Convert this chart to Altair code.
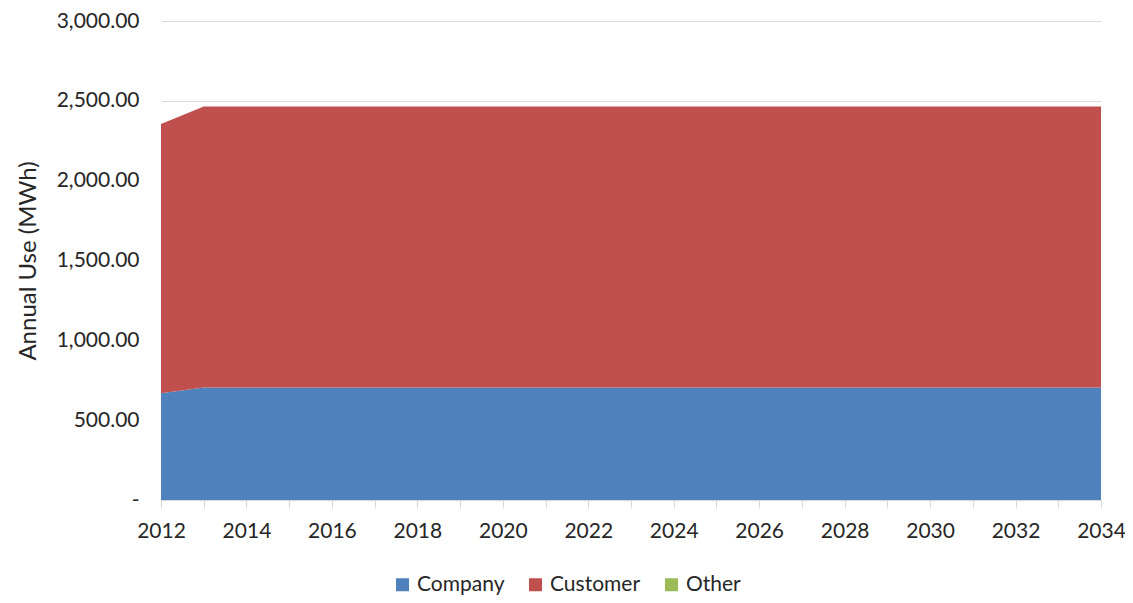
import altair as alt
import pandas as pd

years = list(range(2012, 2035))
company = [668, 705, 705, 705, 705, 705, 705, 705, 705, 705, 705, 705,
           705, 705, 705, 705, 705, 705, 705, 705, 705, 705, 705]
customer = [1687, 1760, 1760, 1760, 1760, 1760, 1760, 1760, 1760, 1760, 1760, 1760,
            1760, 1760, 1760, 1760, 1760, 1760, 1760, 1760, 1760, 1760, 1760]
other = [0, 0, 0, 0, 0, 0, 0, 0, 0, 0, 0, 0,
         0, 0, 0, 0, 0, 0, 0, 0, 0, 0, 0]
series = ["Company", "Customer", "Other"]
colors = ["#4F81BD", "#C0504D", "#9BBB59"]

rows = []
for name, vals in zip(series, [company, customer, other]):
    for y, v in zip(years, vals):
        rows.append({"Year": y, "Series": name, "Value": v})
df = pd.DataFrame(rows)

FONT = "Lato"

chart = alt.Chart(df).mark_area(opacity=1).encode(
    x=alt.X("Year:Q",
            scale=alt.Scale(domain=[2012, 2034], nice=False, zero=False),
            axis=alt.Axis(values=years, grid=False, title=None,
                          labelExpr="datum.value % 2 == 0 ? datum.label : ''",
                          format="d", tickSize=8, tickColor="#d9d9d9",
                          domainColor="#d9d9d9", labelPadding=12, labelFlush=False,
                          labelOverlap=False,
                          labelFontSize=21, labelColor="#262626", labelFont=FONT)),
    y=alt.Y("Value:Q", stack="zero",
            scale=alt.Scale(domain=[0, 3000], nice=False),
            axis=alt.Axis(values=[0, 500, 1000, 1500, 2000, 2500, 3000],
                          labelExpr="datum.value == 0 ? '-' : format(datum.value, ',.2f')",
                          title="Annual Use (MWh)", titleFontSize=24,
                          titleFont=FONT, titleFontWeight="normal", titleColor="#262626",
                          titlePadding=16,
                          domain=False, ticks=False, labelPadding=22,
                          gridColor="#d9d9d9", labelFontSize=21,
                          labelColor="#262626", labelFont=FONT)),
    color=alt.Color("Series:N",
                    scale=alt.Scale(domain=series, range=colors),
                    legend=alt.Legend(title=None, orient="none", direction="horizontal",
                                      legendX=231, legendY=553,
                                      symbolType="square", symbolSize=169,
                                      symbolStrokeWidth=0,
                                      labelFontSize=21, labelFont=FONT,
                                      labelColor="#262626", columnPadding=20)),
    order=alt.Order("Series:N", sort="ascending"),
).properties(
    width=940, height=479,
    padding={"left": 153, "top": 13, "right": 24, "bottom": 98},
    autosize=alt.AutoSizeParams(type="none"),
).configure_view(stroke=None)

chart.save("out.html", embed_options={"renderer": "svg", "actions": False})
